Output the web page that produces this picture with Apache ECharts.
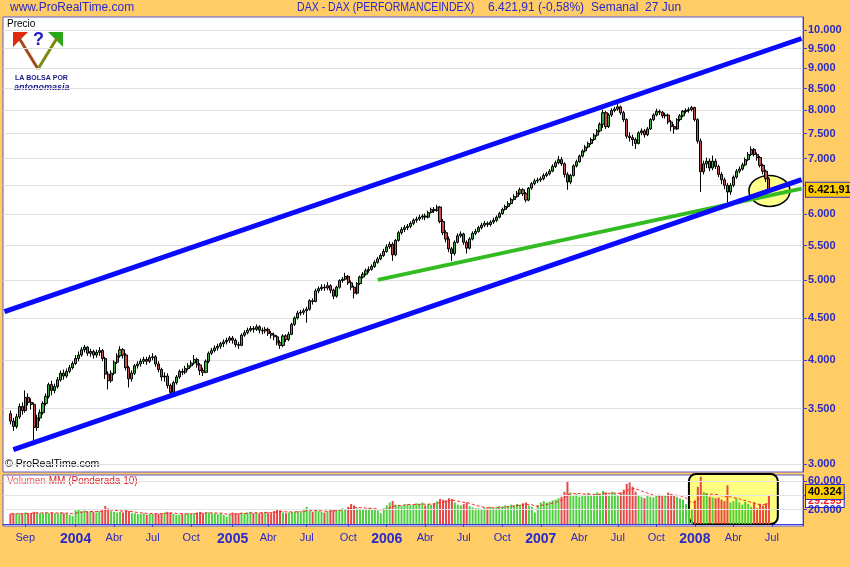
<!DOCTYPE html>
<html><head><meta charset="utf-8">
<script src="https://cdn.jsdelivr.net/npm/echarts@6/dist/echarts.min.js"></script>
<style>html,body{margin:0;padding:0;background:#ffcc66}#c{width:850px;height:567px}</style>
</head><body><div id="c"></div>
<script>
// ================= DATA =================
// Weekly categories (Fridays); the chart shows 2 empty weeks before the first candle and 11 after the last.
const firstCategory = '2003-07-18';
const weeksTotal = 270;
const padBefore = 2;
const firstOpen = 3450;
// Weekly DAX candles [close, low, high]; each week's open is the prior week's close.
const px2003 = [[3380,3350,3480],[3330,3290,3410],[3420,3310,3450],[3520,3400,3550],[3480,3440,3560],[3610,3460,3680],[3560,3530,3650],[3540,3490,3600],[3320,3200,3560],[3410,3290,3440],[3460,3380,3490],[3550,3440,3570],[3620,3530,3650],[3740,3600,3760],[3680,3630,3780],[3720,3650,3750],[3790,3700,3820],[3860,3770,3890],[3830,3790,3900],[3880,3810,3910],[3920,3860,3950],[3965,3900,3990]];
const px2004 = [[4020,3950,4060],[4060,3990,4100],[4120,4040,4150],[4150,4090,4175],[4080,4050,4160],[4100,4040,4130],[4060,4020,4120],[4090,4030,4120],[4110,4050,4150],[4020,3990,4130],[3850,3800,4040],[3780,3690,3880],[3860,3760,3890],[3980,3840,4000],[4050,3960,4080],[4120,4030,4160],[4060,4020,4140],[3920,3890,4080],[3800,3710,3940],[3860,3770,3890],[3940,3840,3960],[3960,3910,3990],[3990,3930,4020],[4010,3960,4040],[3990,3950,4040],[4030,3970,4060],[4040,4000,4080],[3960,3930,4060],[3900,3870,3990],[3820,3780,3920],[3830,3770,3870],[3730,3700,3860],[3660,3618,3750],[3760,3640,3780],[3820,3740,3840],[3880,3800,3900],[3870,3840,3910],[3910,3850,3940],[3940,3890,3970],[3970,3920,4000],[4010,3950,4060],[3950,3920,4030],[3890,3840,3970],[3870,3830,3920],[3990,3860,4010],[4080,3970,4100],[4110,4060,4140],[4140,4090,4170],[4160,4110,4190],[4190,4130,4210],[4210,4150,4240],[4230,4180,4260]];
const px2005 = [[4256,4200,4280],[4230,4190,4280],[4180,4150,4250],[4170,4130,4210],[4290,4160,4310],[4320,4270,4350],[4350,4300,4380],[4370,4330,4400],[4360,4320,4400],[4390,4340,4420],[4350,4310,4410],[4340,4300,4380],[4360,4310,4390],[4310,4280,4380],[4290,4250,4340],[4270,4230,4320],[4200,4170,4290],[4170,4130,4230],[4280,4150,4300],[4240,4210,4300],[4300,4220,4330],[4420,4290,4440],[4500,4400,4520],[4560,4480,4590],[4570,4530,4600],[4590,4540,4620],[4610,4440,4640],[4720,4590,4740],[4710,4670,4750],[4850,4700,4880],[4880,4820,4910],[4900,4850,4940],[4890,4850,4940],[4920,4860,4970],[4860,4820,4940],[4780,4740,4880],[4900,4760,4920],[4990,4880,5010],[5010,4960,5040],[5050,4990,5100],[4960,4930,5070],[4900,4860,4990],[4820,4750,4920],[4950,4800,4970],[5040,4930,5060],[5080,5020,5110],[5130,5060,5160],[5150,5100,5190],[5190,5130,5220],[5250,5170,5280],[5300,5230,5330],[5350,5280,5380]];
const px2006 = [[5410,5330,5450],[5480,5390,5520],[5520,5450,5560],[5360,5270,5550],[5580,5340,5600],[5700,5560,5730],[5750,5670,5790],[5780,5710,5820],[5800,5740,5840],[5850,5770,5880],[5900,5820,5930],[5920,5860,5960],[5950,5890,5990],[5970,5910,6000],[5950,5900,6010],[6030,5930,6060],[6080,6010,6110],[6060,6020,6120],[6120,6040,6160],[5880,5850,6140],[5700,5660,5920],[5600,5550,5740],[5450,5400,5640],[5380,5270,5480],[5550,5350,5580],[5650,5530,5690],[5680,5620,5720],[5550,5510,5700],[5460,5380,5580],[5600,5440,5630],[5690,5580,5720],[5720,5660,5760],[5780,5700,5810],[5820,5750,5860],[5850,5790,5890],[5830,5790,5880],[5870,5800,5900],[5900,5840,5940],[5950,5870,5980],[6010,5930,6040],[6080,5990,6110],[6130,6060,6160],[6180,6100,6220],[6250,6160,6280],[6300,6230,6340],[6360,6280,6400],[6420,6330,6460],[6350,6310,6450],[6240,6200,6380],[6450,6220,6470],[6530,6420,6560],[6580,6500,6620]];
const px2007 = [[6597,6540,6640],[6620,6560,6660],[6680,6590,6720],[6710,6650,6750],[6760,6680,6800],[6850,6740,6890],[6920,6820,6960],[6980,6890,7050],[6900,6860,7030],[6700,6640,6930],[6560,6420,6740],[6680,6520,6710],[6860,6660,6890],[6940,6830,6980],[7050,6920,7080],[7150,7020,7180],[7230,7120,7270],[7300,7200,7340],[7380,7270,7420],[7470,7350,7510],[7560,7440,7600],[7700,7530,7740],[7950,7620,8020],[7650,7600,7990],[7900,7620,7940],[8000,7860,8050],[8030,7960,8080],[8080,7990,8150],[7950,7900,8110],[7800,7750,7990],[7450,7400,7830],[7420,7340,7530],[7380,7250,7480],[7300,7190,7420],[7520,7280,7550],[7560,7470,7610],[7480,7420,7600],[7600,7450,7640],[7800,7580,7830],[7900,7770,7940],[7980,7870,8040],[7960,7900,8020],[7880,7830,7990],[7900,7820,7950],[7750,7700,7930],[7650,7550,7790],[7600,7500,7700],[7800,7580,7830],[7880,7760,7920],[7980,7850,8010],[8000,7930,8050],[8020,7950,8070]];
const px2008 = [[8067,7980,8100],[7800,7760,8080],[7350,7300,7830],[6750,6380,7400],[6900,6700,6960],[6950,6820,7020],[6820,6760,7000],[6950,6780,7060],[6850,6800,7000],[6700,6650,6880],[6600,6520,6740],[6500,6430,6640],[6380,6200,6540],[6500,6330,6540],[6650,6470,6680],[6760,6620,6800],[6800,6720,6850],[6880,6770,6920],[6980,6850,7020],[7080,6950,7130],[7180,7050,7240],[7080,7040,7210],[7020,6960,7120],[6870,6830,7050],[6760,6700,6900],[6620,6560,6790],[6421.91,6380,6650]];
// Weekly volume, thousands
const vol2003 = [14,15,14,15,14,16,15,15,17,16,15,15,16,15,16,15,15,16,15,15,13,11];
const vol2004 = [19,21,18,19,17,18,17,16,18,19,25,22,18,17,16,17,16,19,18,15,15,14,14,15,13,14,14,15,14,15,16,17,16,14,13,13,14,14,15,14,15,16,17,15,16,16,15,15,14,15,13,10];
const vol2005 = [14,16,15,15,16,15,16,17,15,16,15,16,17,16,15,18,20,19,16,15,16,17,17,18,16,20,24,18,17,19,18,17,16,18,19,20,19,21,22,20,24,28,26,22,20,21,20,22,21,20,19,15];
const vol2006 = [22,26,30,32,27,26,25,27,28,26,27,29,28,30,26,28,27,29,32,35,34,33,36,35,30,27,26,28,30,25,23,22,22,21,23,22,24,22,23,25,24,26,25,27,26,28,27,29,30,26,24,16];
const vol2007 = [26,30,32,30,31,33,34,36,38,45,60,44,40,42,38,39,41,43,40,42,44,42,46,44,41,45,43,40,44,48,56,58,52,45,40,38,36,40,38,37,39,41,38,40,44,42,40,38,36,34,28,20];
const vol2008 = [20,33,52,66,45,43,38,37,36,37,34,32,54,30,32,36,30,27,31,28,24,30,22,28,25,29,40.324];
// Trend lines [date, price]
const upperChannel = [['2003-07-18', 4580], ['2008-09-12', 9767]];
const lowerChannel = [['2003-08-08', 3123], ['2008-09-12', 6604]];
const greenSupport = [['2005-12-16', 5000], ['2008-09-12', 6441]];
// Highlights
const circledWeek = {date: '2008-06-27', price: 6400};
const volumeBox = {from: '2007-12-21', to: '2008-07-18', top: 69700};
// Axis ticks / labels
const priceTicks = [3000,3500,4000,4500,5000,5500,6000,6500,7000,7500,8000,8500,9000,9500,10000];
const priceLabels = [3000,3500,4000,4500,5000,5500,6000,7000,7500,8000,8500,9000,9500,10000];
const volumeTicks = [20000,40000,60000];
const volumeLabels = [20000,60000];
const monthLabels = ['Ene','Feb','Mar','Abr','May','Jun','Jul','Ago','Sep','Oct','Nov','Dic'];
const wmaPeriod = 10;

// ================= BUILD =================
const BLUE = '#2a2ac8', AXIS = '#3d3dd6', FONT = 'Liberation Sans, Arial, sans-serif';
const DAY = 864e5;
const [y0, m0, d0] = firstCategory.split('-').map(Number);
const t0 = Date.UTC(y0, m0 - 1, d0);
const categories = [];
for (let k = 0; k < weeksTotal; k++) categories.push(new Date(t0 + k * 7 * DAY).toISOString().slice(0, 10));
const labelAt = {};
for (let k = 1; k < categories.length; k++) {
  const [yy, mm] = categories[k].split('-').map(Number);
  const pm = Number(categories[k - 1].split('-')[1]);
  if (mm !== pm) {
    const mi = mm - 1;
    if (yy === 2003) { if (mi === 8) labelAt[k] = monthLabels[mi]; }
    else if (mi === 0) labelAt[k] = '{yr|' + yy + '}';
    else if (mi % 3 === 0) labelAt[k] = monthLabels[mi];
  }
}
const weekly = [].concat(px2003, px2004, px2005, px2006, px2007, px2008);
const volK = [].concat(vol2003, vol2004, vol2005, vol2006, vol2007, vol2008);
const candleData = [], volData = [], wmaData = [];
const wma = volK.map((v, i) => {
  let s = 0, w = 0;
  for (let j = 0; j < wmaPeriod && i - j >= 0; j++) { s += volK[i - j] * (wmaPeriod - j); w += wmaPeriod - j; }
  return s / w * 1000;
});
categories.forEach((c, k) => {
  const i = k - padBefore;
  if (i < 0 || i >= weekly.length) { candleData.push('-'); volData.push('-'); wmaData.push('-'); return; }
  const [cl, lo, hi] = weekly[i];
  const op = i === 0 ? firstOpen : weekly[i - 1][0];
  candleData.push([op, cl, lo, hi]);
  volData.push({value: Math.round(volK[i] * 1000), itemStyle: {color: cl >= op ? '#4fcf3f' : '#e84848'}});
  wmaData.push(Math.round(wma[i]));
});
const lastClose = weekly[weekly.length - 1][0];
const lastVol = Math.round(volK[volK.length - 1] * 1000);
const lastWma = Math.round(wma[wma.length - 1]);
function fmtDe(v, dec) {
  const s = v.toFixed(dec); const [ip, fp] = s.split('.');
  return ip.replace(/\B(?=(\d{3})+(?!\d))/g, '.') + (fp ? ',' + fp : '');
}
const boxLabel = (bg, fg) => ({show: true, position: 'end', distance: 3, color: fg, backgroundColor: bg,
  borderColor: '#2a2ad0', borderWidth: 1, padding: [2, 2, 1, 2], fontSize: 11, fontWeight: 'bold', fontFamily: FONT});
const axisLabelStyle = {color: BLUE, fontSize: 11, fontWeight: 'bold', fontFamily: FONT, margin: 5};

const chart = echarts.init(document.getElementById('c'));
chart.setOption({
  animation: false,
  backgroundColor: '#ffcc66',
  grid: [
    {left: 3, top: 17, width: 800, height: 455, show: true, backgroundColor: '#ffffff', borderColor: '#5a5ad0', borderWidth: 1},
    {left: 3, top: 475, width: 800, height: 51, show: true, backgroundColor: '#ffffff', borderColor: '#5a5ad0', borderWidth: 1}
  ],
  xAxis: [
    {type: 'category', gridIndex: 0, data: categories, boundaryGap: true,
      axisLine: {show: false}, axisTick: {show: false}, axisLabel: {show: false}, splitLine: {show: false}},
    {type: 'category', gridIndex: 1, data: categories, boundaryGap: true,
      axisLine: {show: true, lineStyle: {color: AXIS}},
      axisTick: {show: true, alignWithLabel: true, length: 3, interval: (i) => labelAt[i] !== undefined, lineStyle: {color: AXIS}},
      axisLabel: {show: true, hideOverlap: false, interval: (i) => labelAt[i] !== undefined, formatter: (v, i) => labelAt[i] || '',
        color: BLUE, fontSize: 11, fontFamily: FONT, margin: 6,
        rich: {yr: {fontSize: 14, fontWeight: 'bold', color: BLUE, fontFamily: FONT}}},
      splitLine: {show: false}}
  ],
  yAxis: [
    {type: 'log', logBase: 10, gridIndex: 0, position: 'right', min: 2935, max: 10367,
      axisLine: {show: true, lineStyle: {color: AXIS}},
      axisTick: {show: true, customValues: priceTicks, length: 4, lineStyle: {color: AXIS}},
      axisLabel: Object.assign({show: true, customValues: priceLabels, formatter: (v) => fmtDe(Math.round(v), 0)}, axisLabelStyle),
      splitLine: {show: true, lineStyle: {color: '#e0e0e0', width: 1}}},
    {type: 'value', gridIndex: 1, position: 'right', min: -2800, max: 68400, z: 5,
      axisLine: {show: true, lineStyle: {color: AXIS}},
      axisTick: {show: true, customValues: volumeTicks, length: 4, lineStyle: {color: AXIS}},
      axisLabel: Object.assign({show: true, customValues: volumeLabels, formatter: (v) => fmtDe(Math.round(v), 0)}, axisLabelStyle),
      splitLine: {show: true, lineStyle: {color: '#e4e4e4', width: 1}}}
  ],
  series: [
    {type: 'custom', xAxisIndex: 0, yAxisIndex: 0, z: 1, silent: true, clip: false,
      data: [[categories.indexOf(circledWeek.date), circledWeek.price]],
      renderItem: (p, api) => {
        const c = api.coord([api.value(0), api.value(1)]);
        return {type: 'ellipse', shape: {cx: c[0] + 0.5, cy: c[1], rx: 20.5, ry: 15.5},
          style: {fill: '#ffff8c', stroke: '#000000', lineWidth: 1.5}};
      }},
    {type: 'candlestick', xAxisIndex: 0, yAxisIndex: 0, data: candleData, barWidth: 2.6, z: 2,
      itemStyle: {color: '#3aaa3a', color0: '#c24c4c', borderColor: '#000000', borderColor0: '#000000', borderWidth: 1},
      markLine: {silent: true, symbol: 'none', animation: false, lineStyle: {color: 'transparent', width: 0},
        label: Object.assign(boxLabel('#ffcc00', '#000000'), {formatter: () => fmtDe(lastClose, 2)}),
        data: [{yAxis: lastClose}]}},
    {type: 'line', xAxisIndex: 0, yAxisIndex: 0, data: upperChannel, symbol: 'none', silent: true, z: 4,
      lineStyle: {color: '#0a0aff', width: 5}},
    {type: 'line', xAxisIndex: 0, yAxisIndex: 0, data: lowerChannel, symbol: 'none', silent: true, z: 4,
      lineStyle: {color: '#0a0aff', width: 5}},
    {type: 'line', xAxisIndex: 0, yAxisIndex: 0, data: greenSupport, symbol: 'none', silent: true, z: 3,
      lineStyle: {color: '#33bb22', width: 4}},
    {type: 'custom', xAxisIndex: 1, yAxisIndex: 1, z: 1, silent: true, clip: false,
      encode: {x: [0, 1], y: 2},
      data: [[categories.indexOf(volumeBox.from), categories.indexOf(volumeBox.to), volumeBox.top]],
      renderItem: (p, api) => {
        const a = api.coord([api.value(0), api.value(2)]);
        const b = api.coord([api.value(1), 0]);
        return {type: 'rect', shape: {x: a[0], y: a[1], width: b[0] - a[0], height: b[1] - a[1], r: 7},
          style: {fill: '#ffff80', stroke: '#000000', lineWidth: 2}};
      }},
    {type: 'bar', xAxisIndex: 1, yAxisIndex: 1, data: volData, barWidth: 2, z: 2, silent: true},
    {type: 'line', xAxisIndex: 1, yAxisIndex: 1, data: wmaData, symbol: 'none', silent: true, z: 3,
      lineStyle: {color: '#ff2020', width: 1, type: [3, 2]},
      markLine: {silent: true, symbol: 'none', animation: false, lineStyle: {color: 'transparent', width: 0},
        data: [
          {yAxis: lastWma, label: Object.assign(boxLabel('#ffffff', '#ee2222'), {formatter: () => fmtDe(lastWma, 0), padding: [1, 2, 0, 2], offset: [0, -2]})},
          {yAxis: lastVol, label: Object.assign(boxLabel('#ffcc00', '#000000'), {formatter: () => fmtDe(lastVol, 0), offset: [0, -3]})}
        ]}}
  ],
  graphic: [
    {type: 'text', left: 10, top: 2, style: {text: 'www.ProRealTime.com', fill: BLUE, font: '12px ' + FONT}},
    {type: 'text', x: 297, y: 2, scaleX: 0.88, style: {text: 'DAX - DAX (PERFORMANCEINDEX)', fill: BLUE, font: '12px ' + FONT}},
    {type: 'text', left: 488, top: 2, style: {text: '6.421,91 (-0,58%)', fill: BLUE, font: '12px ' + FONT}},
    {type: 'text', left: 591, top: 2, style: {text: 'Semanal  27 Jun', fill: BLUE, font: '12px ' + FONT}},
    {type: 'text', left: 7, top: 19, style: {text: 'Precio', fill: '#000', font: '10px ' + FONT}},
    {type: 'polygon', shape: {points: [[13, 32], [28, 32], [13, 47]]}, style: {fill: '#e02a10'}},
    {type: 'polygon', shape: {points: [[63, 32], [48, 32], [63, 47]]}, style: {fill: '#2aa81a'}},
    {type: 'line', shape: {x1: 19, y1: 38, x2: 38, y2: 69}, style: {stroke: '#a24a18', lineWidth: 3}},
    {type: 'line', shape: {x1: 57, y1: 38, x2: 38, y2: 69}, style: {stroke: '#7a8a10', lineWidth: 3}},
    {type: 'text', left: 33, top: 31, style: {text: '?', fill: '#1c1cc0', font: 'bold 18px ' + FONT}},
    {type: 'text', left: 15, top: 75, style: {text: 'LA BOLSA POR', fill: '#1a1a8a', font: 'bold 7px ' + FONT}},
    {type: 'text', left: 14, top: 83, style: {text: 'antonomasia', fill: '#1a1a8a', font: 'italic bold 9px ' + FONT}},
    {type: 'text', left: 5, top: 459, style: {text: '© ProRealTime.com', fill: '#000', font: '10.5px ' + FONT}},
    {type: 'text', left: 7, top: 476, style: {text: '{a|Volumen} {b|MM (Ponderada 10)}', font: '10px ' + FONT,
      rich: {a: {fill: '#f05a5a', font: '10px ' + FONT}, b: {fill: '#e02020', font: '10px ' + FONT}}}}
  ]
});
</script></body></html>
